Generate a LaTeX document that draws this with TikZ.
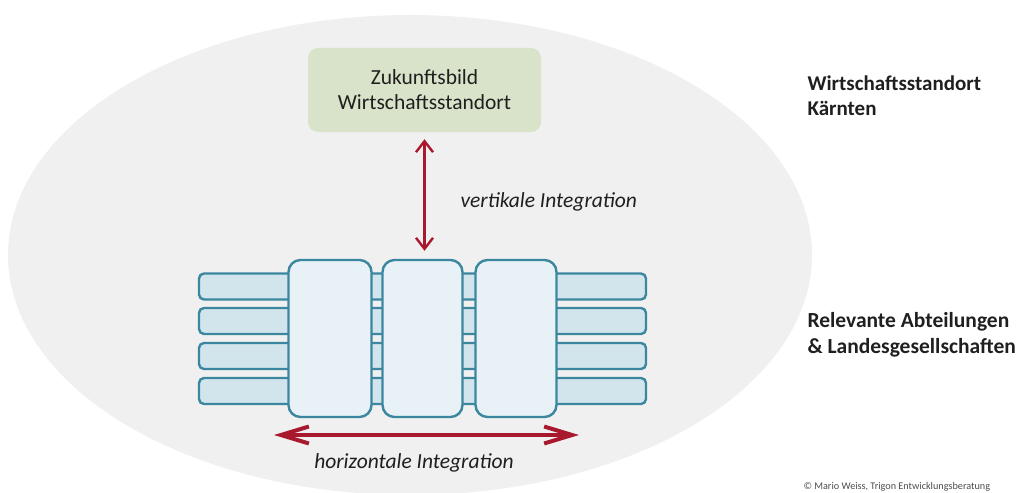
\documentclass[tikz,border=0pt]{standalone}
\usepackage{fontspec}
\setmainfont{Carlito}
\usetikzlibrary{shapes.geometric,arrows.meta}

\definecolor{fieldgray}{HTML}{F0F0F0}
\definecolor{visiongreen}{HTML}{D9E3C9}
\definecolor{barfill}{HTML}{D3E5EC}
\definecolor{colfill}{HTML}{E8F2F6}
\definecolor{tealline}{HTML}{3B87A0}
\definecolor{intred}{HTML}{A8192E}
\definecolor{textgray}{HTML}{1F1F1F}

\begin{document}
\begin{tikzpicture}[x=1pt,y=-1pt,
  every node/.style={text=textgray},
  field/.style={ellipse,fill=fieldgray,draw=none,inner sep=0pt},
  vision/.style={rectangle,rounded corners=10pt,fill=visiongreen,draw=none,
    minimum width=233pt,minimum height=84pt,inner sep=0pt,align=center,
    font=\fontsize{21.5}{25}\selectfont},
  bar/.style={rectangle,rounded corners=5pt,fill=barfill,draw=tealline,
    line width=2.4pt,minimum width=447pt,minimum height=26pt,inner sep=0pt},
  column/.style={rectangle,rounded corners=12pt,fill=colfill,draw=tealline,
    line width=2.4pt,minimum height=157pt,inner sep=0pt},
  vint/.style={draw=intred,line width=2.4pt,
    {Straight Barb[length=11pt,width=17pt]}-{Straight Barb[length=11pt,width=17pt]}},
  hint/.style={draw=intred,line width=4pt,
    {Straight Barb[length=28pt,width=17pt]}-{Straight Barb[length=28pt,width=17pt]}},
  label/.style={font=\fontsize{21.5}{25}\selectfont\itshape},
  side/.style={align=left,anchor=west},
]
\useasboundingbox (0,0) rectangle (1016,492);

% grey background field
\node[field,minimum width=804pt,minimum height=480pt] (field) at (410,255) {};

% vision box
\node[vision] (vision) at (424.5,90) {Zukunftsbild\\Wirtschaftsstandort};

% horizontal departments
\node[bar] (bar1) at (422.5,286.5) {};
\node[bar] (bar2) at (422.5,321) {};
\node[bar] (bar3) at (422.5,356) {};
\node[bar] (bar4) at (422.5,391) {};

% vertical columns across the departments
\node[column,minimum width=83pt] (col1) at (330,338.5) {};
\node[column,minimum width=80pt] (col2) at (422.5,338.5) {};
\node[column,minimum width=81pt] (col3) at (516,338.5) {};

% vertical integration
\draw[vint,shorten <=7pt,shorten >=8pt] (vision.south) -- (vision.south |- col2.north);
\node[label,anchor=west] (vlabel) at (457,202) {vertikale Integration};

% horizontal integration
\coordinate (hleft) at (274,435);
\coordinate (hright) at (579,435);
\draw[hint] (hleft) -- (hright);
\node[label] (hlabel) at (414,463) {horizontale Integration};

% side captions
\node[side,font=\fontsize{21}{25}\selectfont\bfseries] (region) at (804,96)
  {Wirtschaftsstandort\\Kärnten};
\node[side,font=\fontsize{21.5}{26}\selectfont\bfseries] (units) at (804,335)
  {Relevante Abteilungen\\\& Landesgesellschaften};

% credit line
\node[anchor=west,font=\fontsize{10.2}{11}\selectfont,text=textgray!80] (credit) at (800,487)
  {© Mario Weiss, Trigon Entwicklungsberatung};
\end{tikzpicture}
\end{document}
